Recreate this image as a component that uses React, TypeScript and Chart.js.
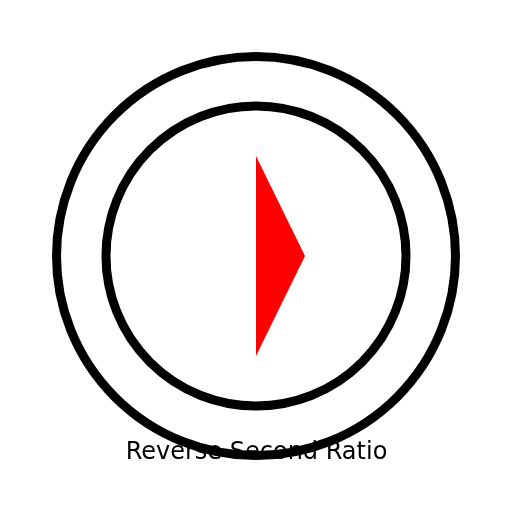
import React, { useEffect, useRef } from 'react';
import Chart from 'chart.js/auto';

// rings (radius in px) and the red pointer triangle (bottom to top)
const ringRadii = [199.5, 150];
const pointerY = [-100, 0, 100];
const pointerX = [0, 49, 0];
const label = 'Reverse Second Ratio';

const App: React.FC = () => {
  const chartRef = useRef<HTMLCanvasElement>(null);
  const chartInstance = useRef<Chart | null>(null);

  useEffect(() => {
    if (!chartRef.current) return;
    if (chartInstance.current) chartInstance.current.destroy();
    const ctx = chartRef.current.getContext('2d');
    if (!ctx) return;

    // label sits under the rings, so draw it before the datasets
    const labelPlugin = {
      id: 'bottomLabel',
      beforeDatasetsDraw: (chart: Chart) => {
        const c = chart.ctx;
        c.save();
        c.font = '24px "DejaVu Sans"';
        c.fillStyle = '#000';
        c.textAlign = 'center';
        c.textBaseline = 'alphabetic';
        c.fillText(label, chart.scales.x.getPixelForValue(0.5), chart.scales.y.getPixelForValue(-203));
        c.restore();
      },
    };

    chartInstance.current = new Chart(ctx, {
      type: 'bubble',
      data: {
        datasets: [
          {
            type: 'line',
            label: 'pointer',
            indexAxis: 'y',
            data: pointerY.map((y, i) => ({ x: pointerX[i], y })),
            borderColor: '#ff0000',
            borderWidth: 0,
            backgroundColor: '#ff0000',
            pointRadius: 0,
            showLine: true,
            fill: 'origin',
            tension: 0,
          } as any,
          {
            type: 'bubble',
            label: 'rings',
            data: ringRadii.map(r => ({ x: 0, y: 0, r })),
            borderColor: '#000000',
            borderWidth: 9,
            backgroundColor: 'rgba(0,0,0,0)',
            hoverBorderWidth: 9,
            clip: false,
          },
        ],
      },
      options: {
        responsive: true,
        maintainAspectRatio: false,
        animation: false,
        layout: { padding: 0, autoPadding: false },
        scales: {
          x: { type: 'linear', min: -256, max: 256, display: false },
          y: { type: 'linear', min: -256, max: 256, display: false },
        },
        plugins: {
          legend: { display: false },
          tooltip: { enabled: false },
        },
        events: [],
      },
      plugins: [labelPlugin],
    });

    return () => {
      if (chartInstance.current) {
        chartInstance.current.destroy();
        chartInstance.current = null;
      }
    };
  }, []);

  return (
    <div style={{ position: 'absolute', left: 0, top: 0, width: 512, height: 512, background: '#fff' }}>
      <canvas ref={chartRef} />
    </div>
  );
};

export default App;
